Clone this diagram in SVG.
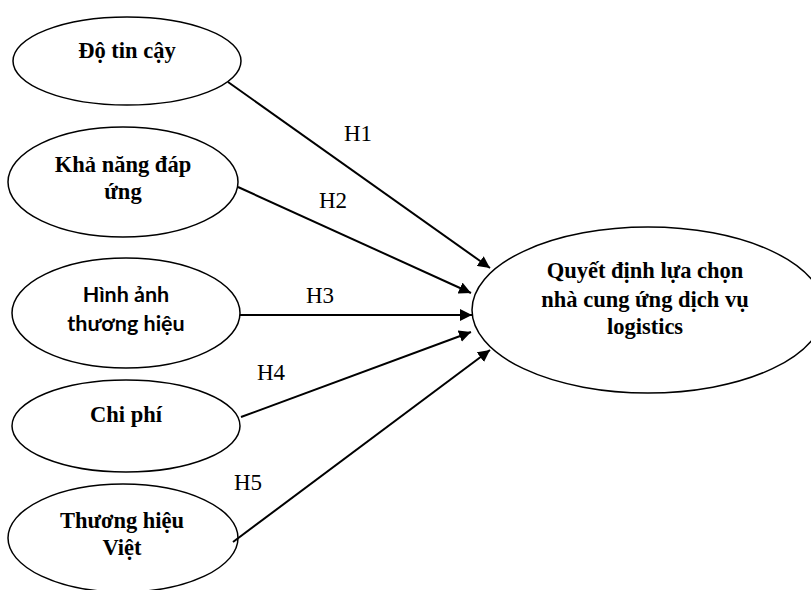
<svg xmlns="http://www.w3.org/2000/svg" width="811" height="590" viewBox="0 0 811 590">
<style>
.node ellipse{fill:#fff;stroke:#000;stroke-width:1.5}
.t{font-family:"Liberation Serif","Times New Roman",serif;font-weight:bold;font-size:22.5px;text-anchor:middle;fill:#000}
.s{font-family:Lato,"Liberation Sans",sans-serif;font-weight:bold;font-size:21.5px;text-anchor:middle;fill:#000}
.h{font-family:"Liberation Serif","Times New Roman",serif;font-size:23px;fill:#000}
.edges line{stroke:#000;stroke-width:2;marker-end:url(#arr)}
</style>
<defs>
<marker id="arr" viewBox="0 0 12 12" refX="12" refY="6" markerWidth="12" markerHeight="12" markerUnits="userSpaceOnUse" orient="auto">
<path d="M0,0 L12,6 L0,12 Z" fill="#000"/>
</marker>
</defs>
<rect width="811" height="590" fill="#fff"/>
<g id="n1" class="node"><ellipse cx="127" cy="61" rx="114" ry="44"/><text class="t" x="127" y="58">Độ tin cậy</text></g>
<g id="n2" class="node"><ellipse cx="123" cy="182" rx="115" ry="55"/><text class="t" x="123" y="172">Khả năng đáp</text><text class="t" x="123" y="199">ứng</text></g>
<g id="n3" class="node"><ellipse cx="126" cy="313" rx="114" ry="55"/><text class="s" x="126" y="302">Hình ảnh</text><text class="s" x="126" y="331">thương hiệu</text></g>
<g id="n4" class="node"><ellipse cx="126" cy="426" rx="114" ry="46"/><text class="t" x="126" y="422">Chi phí</text></g>
<g id="n5" class="node"><ellipse cx="123" cy="538" rx="115" ry="54"/><text class="t" x="122" y="528">Thương hiệu</text><text class="t" x="122" y="555">Việt</text></g>
<g id="n6" class="node"><ellipse cx="648" cy="310" rx="176" ry="83"/><text class="t" x="645" y="278">Quyết định lựa chọn</text><text class="t" x="645" y="307">nhà cung ứng dịch vụ</text><text class="t" x="645" y="334">logistics</text></g>
<g id="edges" class="edges">
<line x1="228" y1="82" x2="490" y2="268"/>
<line x1="238" y1="187" x2="471" y2="293"/>
<line x1="240" y1="315" x2="472" y2="315"/>
<line x1="241" y1="417" x2="471" y2="332"/>
<line x1="233" y1="542" x2="490" y2="350"/>
</g>
<g id="labels">
<text class="h" x="344" y="141">H1</text>
<text class="h" x="319" y="208">H2</text>
<text class="h" x="306" y="303">H3</text>
<text class="h" x="257" y="380">H4</text>
<text class="h" x="234" y="490">H5</text>
</g>
</svg>
